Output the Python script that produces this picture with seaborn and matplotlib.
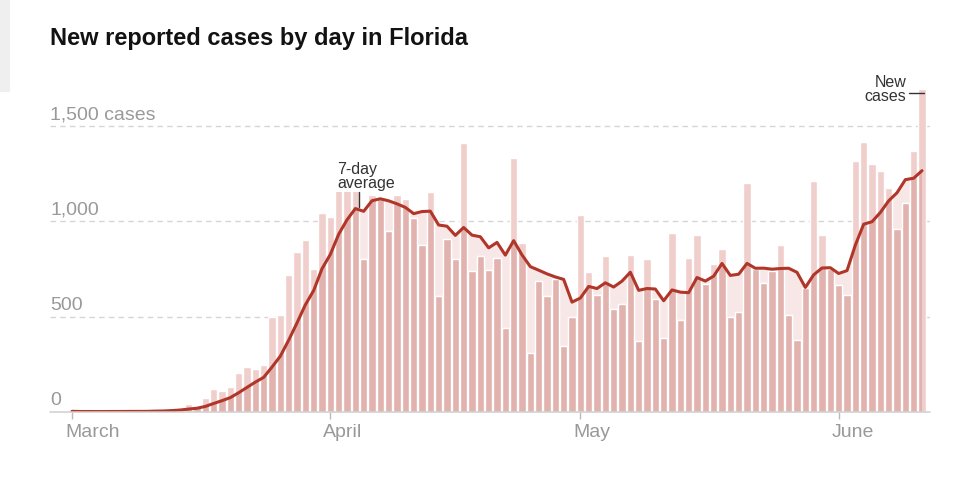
import numpy as np
import pandas as pd
import matplotlib
matplotlib.use("Agg")
import matplotlib.pyplot as plt
import matplotlib.transforms as mtransforms
from matplotlib.patches import Rectangle
import seaborn as sns

# daily new reported cases in Florida
march_cases = [2, 0, 1, 0, 1, 3, 1, 5, 0, 2, 9, 6, 18, 22, 40, 30, 70, 117, 109, 131,
               201, 237, 224, 245, 496, 510, 718, 837, 902, 750, 1046]
april_cases = [1025, 1250, 1250, 1250, 802, 1139, 1116, 951, 1139, 1120, 1020, 878, 1153,
               608, 906, 802, 1410, 738, 820, 743, 809, 438, 1335, 885, 307, 689, 608,
               696, 347, 499]
may_cases = [1035, 734, 613, 818, 541, 564, 825, 370, 801, 594, 387, 939, 482, 806, 927,
             671, 776, 853, 499, 526, 1204, 748, 675, 738, 878, 508, 377, 648, 1211, 927,
             748]
june_cases = [666, 613, 1316, 1417, 1302, 1267, 1177, 962, 1095, 1370, 1694]

month_names = ["March", "April", "May", "June"]
ytick_values = [0, 500, 1000, 1500]
ytick_labels = ["0", "500", "1,000", "1,500 cases"]

cases = march_cases + april_cases + may_cases + june_cases
dates = pd.date_range("2020-03-01", periods=len(cases), freq="D")
df = pd.DataFrame({"date": dates, "day": np.arange(len(cases)), "cases": cases})
df["avg"] = df["cases"].rolling(7, min_periods=1).mean()

month_starts = [df.index[(df["date"].dt.month == m) & (df["date"].dt.day == 1)][0]
                for m in [3, 4, 5, 6]]

bar_light = "#efcecc"
bar_dark = "#e2b2ae"
fill_col = "#f7e7e6"
line_col = "#b0362a"
grey_txt = "#999999"

sns.set_style("white")
plt.rcParams["font.family"] = ["Liberation Sans", "DejaVu Sans"]

fig = plt.figure(figsize=(9.73, 4.90), dpi=100)
ax = fig.add_axes([50 / 973, (490 - 411.7) / 490, 880 / 973, (411.7 - 85) / 490])

# light pink area under the 7-day average
fill = ax.fill_between(df["day"], 0, df["avg"], color=fill_col, lw=0, zorder=0.5)

# bars: light everywhere, darker where they sit under the average
sns.barplot(data=df, x="day", y="cases", native_scale=True, color=bar_light,
            saturation=1, width=0.9, errorbar=None, ax=ax, zorder=1)
n_before = len(ax.patches)
sns.barplot(data=df, x="day", y="cases", native_scale=True, color=bar_dark,
            saturation=1, width=0.9, errorbar=None, ax=ax, zorder=1.1)
clip_path = fill.get_paths()[0]
for p in ax.patches[n_before:]:
    p.set_clip_path(clip_path, ax.transData)

sns.lineplot(data=df, x="day", y="avg", color=line_col, linewidth=2.2, ax=ax, zorder=3)

ax.set_xlim(-2.64, 102.96)
ax.set_ylim(0, 1717)
for s in ax.spines.values():
    s.set_visible(False)

# gridlines + baseline
for v in ytick_values[1:]:
    ax.axhline(v, color="#d6d6d6", lw=1, ls=(0, (4, 3)), zorder=0.2)
ax.axhline(0, color="#d0d0d0", lw=1.1, zorder=4, clip_on=False)

ax.set_yticks([])
ax.set_ylabel("")
ax.set_xlabel("")
ylab_tr = mtransforms.blended_transform_factory(ax.transAxes, ax.transData) + \
    mtransforms.ScaledTranslation(0, 0.066, fig.dpi_scale_trans)
for v, lab in zip(ytick_values, ytick_labels):
    ax.text(0, v, lab, transform=ylab_tr, ha="left", va="baseline",
            fontsize=14, color=grey_txt)

ax.set_xticks(month_starts)
ax.set_xticklabels(month_names)
ax.tick_params(axis="x", length=5, width=1, color="#bbbbbb", labelcolor=grey_txt,
               labelsize=14, pad=4, direction="out", bottom=True)
shift = mtransforms.ScaledTranslation(-0.07, 0, fig.dpi_scale_trans)
for lab in ax.get_xticklabels():
    lab.set_horizontalalignment("left")
    lab.set_transform(lab.get_transform() + shift)

# annotations
ax.text(31.8, 1160, "7-day\naverage", ha="left", va="bottom", fontsize=11.5,
        color="#333333", linespacing=0.95, zorder=5,
        bbox=dict(boxstyle="square,pad=0.05", fc="white", ec="none"))
ax.plot([34.4, 34.4], [df["avg"][34] + 10, df["avg"][34] + 85], color="#333333",
        lw=1, zorder=5)

last = df["day"].iloc[-1]
ax.text(100.1, 1617, "New\ncases", ha="right", va="bottom", fontsize=11.5,
        color="#333333", linespacing=0.95, zorder=5, clip_on=False)
ax.plot([last - 1.6, last + 0.2], [df["cases"].iloc[-1] - 20] * 2, color="#333333",
        lw=1, zorder=5, clip_on=False)

# title and the grey block in the corner
fig.text(50 / 973, 1 - 45 / 490, "New reported cases by day in Florida",
         fontsize=17, fontweight="bold", color="#121212", ha="left", va="baseline")
fig.add_artist(Rectangle((0, 1 - 92 / 490), 10 / 973, 92 / 490,
                         transform=fig.transFigure, color="#efefef", lw=0))

fig.savefig("out.png", dpi=100)
